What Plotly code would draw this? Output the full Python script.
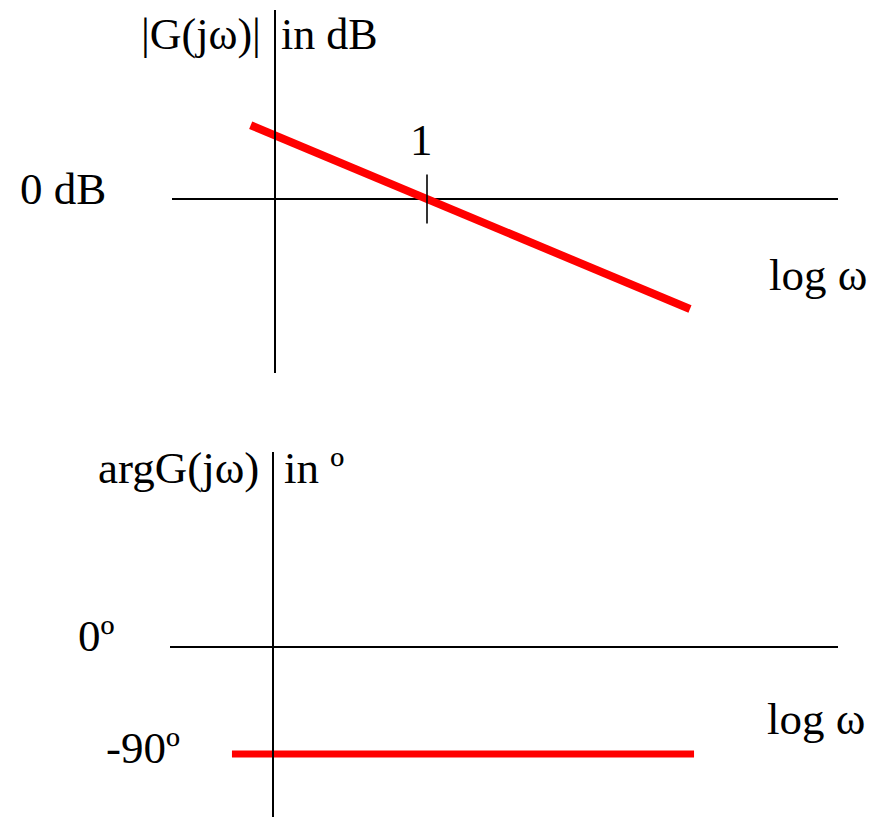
import plotly.graph_objects as go

W, H = 879, 809      # page body has an 8px margin; 879+8 = 887, 809+8 = 817
OFF = 8

# ---- data (x values are log10(omega)) ----
mag_logw = [-1.16, 1.73]          # magnitude asymptote end points
mag_db = [23.2, -34.6]            # |G(jw)| in dB (-20 dB/decade)
phase_logw = [-1.27, 1.77]
phase_deg = [-90, -90]            # argG(jw) in degrees

cross_logw = [0.0]                # omega = 1
cross_db = [0.0]
cross_label = "1"

vaxis_logw = -1.0                 # where the vertical axes are drawn

mag_title = ["|G(jω)|", "in dB"]
phase_title = ["argG(jω)", "in º"]
x_title = "log ω"
mag_ticks = [(0, "0 dB")]
phase_ticks = [(0, "0º"), (-90, "-90º")]

FONT = "Liberation Serif, Times New Roman, serif"
FS = 45
RED = "#ff0000"

def fx(px):
    return (px - OFF) / W

def fy(py):
    return 1 - (py - OFF) / H

fig = go.Figure()

fig.add_trace(go.Scatter(x=mag_logw, y=mag_db, mode="lines",
                         line=dict(color=RED, width=8), xaxis="x", yaxis="y",
                         hoverinfo="skip"))
fig.add_trace(go.Scatter(x=cross_logw, y=cross_db, mode="markers",
                         marker=dict(symbol="line-ns", size=35,
                                     line=dict(color="black", width=1.6)),
                         xaxis="x", yaxis="y", hoverinfo="skip"))
fig.add_trace(go.Scatter(x=phase_logw, y=phase_deg, mode="lines",
                         line=dict(color=RED, width=7), xaxis="x2", yaxis="y2",
                         hoverinfo="skip"))

ax_common = dict(showgrid=False, showticklabels=False, ticks="",
                 showline=False, zeroline=False)

# top panel: x pixels 172-838 ; y pixels 10-373 ; 152 px/decade, 3.18 px/dB
fig.update_layout(
    xaxis=dict(domain=[fx(172), fx(838)], range=[(172 - 427) / 152, (838 - 427) / 152],
               anchor="y", **ax_common),
    yaxis=dict(domain=[fy(373), fy(10)], range=[-(373 - 199) / 3.18, (199 - 10) / 3.18],
               anchor="x", showgrid=False, showticklabels=False, ticks="",
               showline=False, zeroline=True, zerolinecolor="black", zerolinewidth=2),
    xaxis2=dict(domain=[fx(170), fx(838)], range=[(170 - 425) / 152, (838 - 425) / 152],
                anchor="y2", **ax_common),
    yaxis2=dict(domain=[0, fy(452)], range=[-(817 - 647) * 90 / 107, (647 - 452) * 90 / 107],
                anchor="x2", showgrid=False, showticklabels=False, ticks="",
                showline=False, zeroline=True, zerolinecolor="black", zerolinewidth=2),
)

fig.add_shape(type="line", x0=vaxis_logw, x1=vaxis_logw, y0=0, y1=1,
              xref="x", yref="y domain", line=dict(color="black", width=2))
fig.add_shape(type="line", x0=vaxis_logw, x1=vaxis_logw, y0=0, y1=1,
              xref="x2", yref="y2 domain", line=dict(color="black", width=2))

ann = []
def txt(text, x, y, xref="paper", yref="paper", xanchor="center", size=FS,
        yshift=0, xshift=0):
    ann.append(dict(text=text, x=x, y=y, xref=xref, yref=yref, xanchor=xanchor,
                    yanchor="middle", showarrow=False, yshift=yshift, xshift=xshift,
                    font=dict(family=FONT, size=size, color="black")))

txt(mag_title[0], fx(263), fy(34), xanchor="right", size=44)
txt(mag_title[1], fx(279), fy(34), xanchor="left", size=44)
txt(cross_label, cross_logw[0], cross_db[0], xref="x", yref="y", yshift=59, xshift=-6)
for v, t in mag_ticks:
    txt(t, fx(108), v, yref="y", xanchor="right", yshift=10)
txt(x_title, fx(767), fy(275), xanchor="left")
txt(phase_title[0], fx(261), fy(468), xanchor="right")
txt(phase_title[1], fx(282), fy(468), xanchor="left")
txt(phase_ticks[0][1], fx(117), phase_ticks[0][0], yref="y2", xanchor="right", yshift=11)
txt(phase_ticks[1][1], fx(182), phase_ticks[1][0], yref="y2", xanchor="right", yshift=6)
txt(x_title, fx(765), fy(719), xanchor="left")

fig.update_layout(annotations=ann, width=W, height=H,
                  margin=dict(l=0, r=0, t=0, b=0),
                  paper_bgcolor="white", plot_bgcolor="white", showlegend=False)

fig.write_html("out.html")
